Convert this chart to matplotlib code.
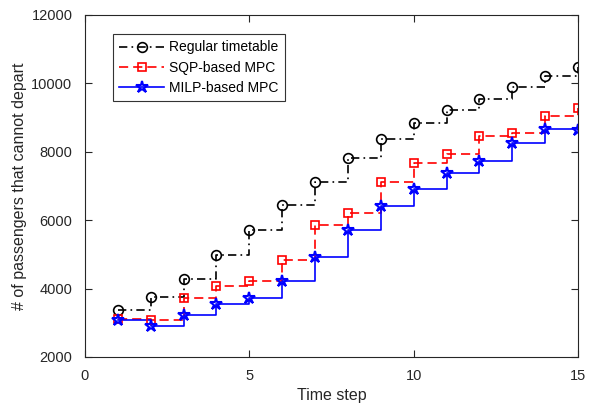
import matplotlib.pyplot as plt
import numpy as np

plt.rcParams['font.family'] = ['Liberation Sans', 'DejaVu Sans']

steps = np.arange(1, 16)
regular = [3370, 3740, 4280, 4990, 5710, 6450, 7130, 7820, 8360, 8830,
           9220, 9540, 9890, 10220, 10490]
sqp = [3100, 3080, 3730, 4070, 4230, 4850, 5850, 6200, 7120, 7680,
       7930, 8460, 8550, 9050, 9270]
milp = [3080, 2910, 3230, 3550, 3720, 4230, 4930, 5710, 6400, 6900,
        7370, 7730, 8270, 8660, 8640]

dashdot = (0, (5, 2.5, 1, 2.5))
dashed = (0, (5.5, 3))

fig = plt.figure(figsize=(5.91, 4.07), dpi=100)
ax = fig.add_axes([0.1438, 0.1229, 0.8342, 0.8403])

ax.plot(steps, regular, color='k', linestyle=dashdot, drawstyle='steps-post', linewidth=1.2)
ax.plot(steps, sqp, color='r', linestyle=dashed, drawstyle='steps-post', linewidth=1.2)
ax.plot(steps, milp, 'b-', drawstyle='steps-post', linewidth=1.2)
ax.plot(steps, regular, 'ko', mfc='none', markersize=7, mew=1.2, linestyle='none')
ax.plot(steps, sqp, 'rs', mfc='none', markersize=6, mew=1.2, linestyle='none')
ax.plot(steps, milp, 'b*', mfc='none', markersize=9, mew=1.5, linestyle='none')

# proxy handles for legend
h1, = ax.plot([], [], color='k', linestyle=dashdot, marker='o', mfc='none', markersize=7, mew=1.2, linewidth=1.2)
h2, = ax.plot([], [], color='r', linestyle=dashed, marker='s', mfc='none', markersize=6, mew=1.2, linewidth=1.2)
h3, = ax.plot([], [], 'b-', marker='*', mfc='none', markersize=9, mew=1.5, linewidth=1.2)
leg = ax.legend([h1, h2, h3], ['Regular timetable', 'SQP-based MPC', 'MILP-based MPC'],
                loc='upper left', bbox_to_anchor=(0.057, 0.944), fontsize=10,
                handlelength=3.2, fancybox=False, edgecolor='0.2',
                borderaxespad=0, labelspacing=0.45, handletextpad=0.4,
                borderpad=0.45, framealpha=1)
leg.get_frame().set_linewidth(0.8)

ax.set_xlim(0, 15)
ax.set_ylim(2000, 12000)
ax.set_xticks([0, 5, 10, 15])
ax.set_yticks(np.arange(2000, 12001, 2000))
ax.tick_params(direction='in', top=True, right=True, labelsize=10.5, colors='0.15', length=5)
ax.tick_params(axis='x', pad=9)
ax.tick_params(axis='y', pad=9)
for s in ax.spines.values():
    s.set_color('0.15')
    s.set_linewidth(0.8)
ax.set_xlabel('Time step', fontsize=11.5, color='0.15', labelpad=3)
ax.set_ylabel('# of passengers that cannot depart', fontsize=11.5, color='0.15', labelpad=3)

plt.savefig('out.png', dpi=100)
